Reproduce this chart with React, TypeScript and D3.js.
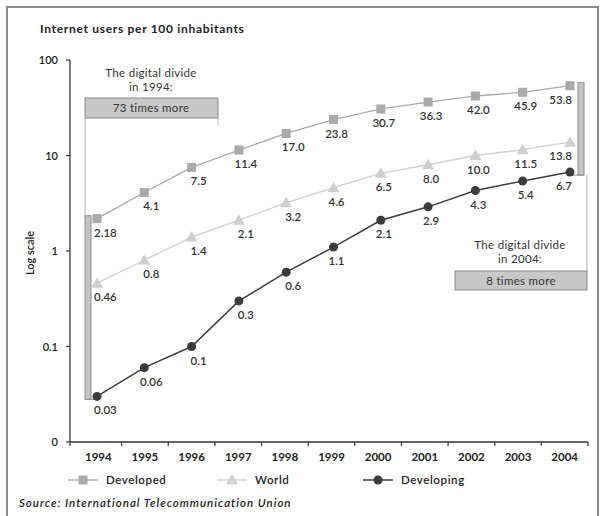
import React from "react";
import * as d3 from "d3";

const years = ["1994","1995","1996","1997","1998","1999","2000","2001","2002","2003","2004"];
const developed = [2.18, 4.1, 7.5, 11.4, 17.0, 23.8, 30.7, 36.3, 42.0, 45.9, 53.8];
const world = [0.46, 0.8, 1.4, 2.1, 3.2, 4.6, 6.5, 8.0, 10.0, 11.5, 13.8];
const developing = [0.03, 0.06, 0.1, 0.3, 0.6, 1.1, 2.1, 2.9, 4.3, 5.4, 6.7];
const developedLabels = ["2.18","4.1","7.5","11.4","17.0","23.8","30.7","36.3","42.0","45.9","53.8"];
const worldLabels = ["0.46","0.8","1.4","2.1","3.2","4.6","6.5","8.0","10.0","11.5","13.8"];
const developingLabels = ["0.03","0.06","0.1","0.3","0.6","1.1","2.1","2.9","4.3","5.4","6.7"];
const yTicks = [0.01, 0.1, 1, 10, 100];
const yTickLabels = ["0", "0.1", "1", "10", "100"];

const W = 604, H = 516;
const FONT = "Lato, 'DejaVu Sans', sans-serif";

export default function App() {
  const y = d3.scaleLog().domain([0.01, 100]).range([442, 60]);
  const xBand = d3.scaleBand().domain(years).range([75, 588]);
  const xPt = d3.scalePoint().domain(years).range([97, 570]);
  const line = d3.line<number>().x((_, i) => xPt(years[i])!).y(d => y(d));

  const series = [
    { name: "Developed", vals: developed, labels: developedLabels, color: "#a9a9a9", marker: "square", lw: 1.3 },
    { name: "World", vals: world, labels: worldLabels, color: "#cfcfcf", marker: "tri", lw: 1.3 },
    { name: "Developing", vals: developing, labels: developingLabels, color: "#3c3c3c", marker: "circle", lw: 1.5 },
  ];

  const marker = (m: string, cx: number, cy: number, color: string, key?: any) => {
    if (m === "square") return <rect key={key} x={cx - 4.5} y={cy - 4.5} width={9} height={9} fill={color} />;
    if (m === "tri") return <path key={key} d={`M${cx},${cy - 6}L${cx + 6},${cy + 4.5}L${cx - 6},${cy + 4.5}Z`} fill={color} />;
    return <circle key={key} cx={cx} cy={cy} r={4.5} fill={color} />;
  };

  const x0 = xPt(years[0])!;
  const xN = xPt(years[years.length - 1])!;
  const last = years.length - 1;

  return (
    <svg width={W} height={H} style={{ position: "absolute", left: 0, top: 0, background: "#fff" }} fontFamily={FONT}>
      <rect x={7} y={7} width={591} height={520} fill="none" stroke="#8a8a8a" strokeWidth={2} />
      <text x={40} y={33} fontSize={12} fontWeight={700} letterSpacing={0.7} fill="#222">Internet users per 100 inhabitants</text>

      {/* Y axis */}
      <line x1={70} x2={70} y1={y(100)} y2={442} stroke="#333" strokeWidth={1.3} />
      {yTicks.map((t, i) => (
        <g key={t}>
          <line x1={66} x2={70} y1={y(t)} y2={y(t)} stroke="#333" strokeWidth={1.2} />
          <text x={58} y={y(t) + 4} fontSize={11} fontWeight={600} textAnchor="end" fill="#222">{yTickLabels[i]}</text>
        </g>
      ))}
      <text transform={`translate(34,${253}) rotate(-90)`} fontSize={11} fontWeight={600} textAnchor="middle" fill="#222">Log scale</text>

      {/* X axis */}
      <line x1={70} x2={588} y1={442} y2={442} stroke="#333" strokeWidth={1.3} />
      {years.map(yr => {
        const tx = xBand(yr)! + xBand.bandwidth();
        return <line key={yr} x1={tx} x2={tx} y1={442} y2={446} stroke="#333" strokeWidth={1.2} />;
      })}
      <line x1={70} x2={70} y1={442} y2={446} stroke="#333" strokeWidth={1.2} />
      {years.map(yr => (
        <text key={yr} x={xBand(yr)! + xBand.bandwidth() / 2} y={461} fontSize={11.5} fontWeight={700} textAnchor="middle" fill="#222">{yr}</text>
      ))}

      {/* Left bracket 1994 */}
      <line x1={85} x2={85} y1={118} y2={y(developed[0])} stroke="#b5b5b5" strokeWidth={1} />
      <rect x={85} y={y(developed[0]) - 3} width={6} height={y(developing[0]) - y(developed[0]) + 6} fill="#c4c4c4" stroke="#8f8f8f" strokeWidth={1} />
      <line x1={85} x2={x0} y1={y(developing[0]) + 3} y2={y(developing[0]) + 3} stroke="#8f8f8f" strokeWidth={1} />
      <rect x={85} y={98} width={133} height={20} fill="#c8c8c8" stroke="#8a8a8a" strokeWidth={1} />
      <line x1={218} x2={218} y1={118} y2={126} stroke="#c4c4c4" strokeWidth={1} />
      <text x={151} y={77} fontSize={11.5} letterSpacing={0.3} textAnchor="middle" fill="#333">The digital divide</text>
      <text x={151} y={91} fontSize={11.5} letterSpacing={0.3} textAnchor="middle" fill="#333">in 1994:</text>
      <text x={151} y={112} fontSize={11.5} letterSpacing={0.3} textAnchor="middle" fill="#333">73 times more</text>

      {/* Right bracket 2004 */}
      <rect x={578} y={y(developed[last]) - 3} width={6} height={y(developing[last]) - y(developed[last]) + 6} fill="#c4c4c4" stroke="#8f8f8f" strokeWidth={1} />
      <line x1={587} x2={587} y1={y(developing[last]) + 3} y2={271} stroke="#b5b5b5" strokeWidth={1} />
      <line x1={xN} x2={584} y1={y(developing[last]) + 3} y2={y(developing[last]) + 3} stroke="#8f8f8f" strokeWidth={1} />
      <rect x={455} y={271} width={132} height={19} fill="#c8c8c8" stroke="#8a8a8a" strokeWidth={1} />
      <text x={520} y={249} fontSize={11.5} letterSpacing={0.3} textAnchor="middle" fill="#333">The digital divide</text>
      <text x={520} y={263} fontSize={11.5} letterSpacing={0.3} textAnchor="middle" fill="#333">in 2004:</text>
      <text x={521} y={284.5} fontSize={11.5} letterSpacing={0.3} textAnchor="middle" fill="#333">8 times more</text>

      {/* Series */}
      {series.map(s => (
        <g key={s.name}>
          <path d={line(s.vals)!} fill="none" stroke={s.color} strokeWidth={s.lw} />
          {s.vals.map((v, i) => marker(s.marker, xPt(years[i])!, y(v), s.color, i))}
          {s.vals.map((v, i) => {
            const cx = xPt(years[i])!;
            const cy = y(v);
            const anchor = i === 0 ? "start" : i === last ? "end" : "middle";
            const dx = i === 0 ? -3 : i === last ? 2 : (i < 5 ? 7 : 3);
            return (
              <text key={"l" + i} x={cx + dx} y={cy + 18} fontSize={11.5} fontWeight={600} textAnchor={anchor} fill="#333">{s.labels[i]}</text>
            );
          })}
        </g>
      ))}

      {/* Legend */}
      {series.map((s, i) => {
        const lx = [68, 217, 363][i];
        return (
          <g key={"leg" + i}>
            <line x1={lx} x2={lx + 30} y1={480} y2={480} stroke={s.color} strokeWidth={s.lw} />
            {marker(s.marker, lx + 15, 480, s.color)}
            <text x={lx + 38} y={484} fontSize={11.5} fontWeight={600} letterSpacing={0.6} fill="#222">{s.name}</text>
          </g>
        );
      })}
      <text x={19} y={507} fontSize={11.5} fontStyle="italic" fontWeight={600} letterSpacing={1} fill="#222">Source: International Telecommunication Union</text>
    </svg>
  );
}
